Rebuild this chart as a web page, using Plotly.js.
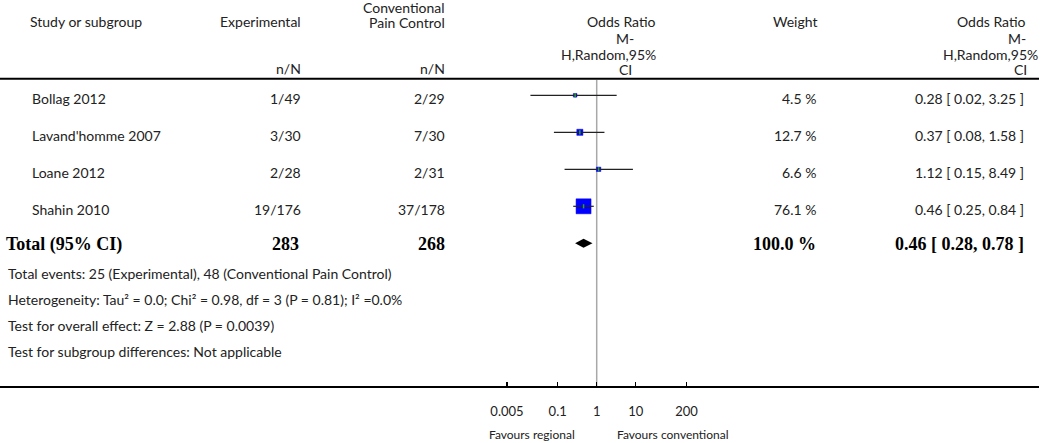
<!DOCTYPE html>
<html><head><meta charset="utf-8">
<script src="https://cdn.plot.ly/plotly-3.0.1.min.js"></script>
<style>html,body{margin:0;padding:0;background:#fff}</style>
</head><body><div id="chart" style="width:1050px;height:443px"></div>
<script>
// ---------- data ----------
const studies = ["Bollag 2012", "Lavand'homme 2007", "Loane 2012", "Shahin 2010"];
const expEvents = ["1/49", "3/30", "2/28", "19/176"];
const ctrlEvents = ["2/29", "7/30", "2/31", "37/178"];
const oddsRatio = [0.28, 0.37, 1.12, 0.46];
const ciLow = [0.02, 0.08, 0.15, 0.25];
const ciHigh = [3.25, 1.58, 8.49, 0.84];
const weights = [4.5, 12.7, 6.6, 76.1];
const totalLabel = "Total (95% CI)";
const totalExpN = 283;
const totalCtrlN = 268;
const totalOR = 0.46;
const totalLow = 0.28;
const totalHigh = 0.78;
const totalWeight = 100.0;
const tickVals = [0.005, 0.1, 1, 10, 200];
const tickLabels = ["0.005", "0.1", "1", "10", "200"];
const footnotes = [
  "Total events: 25 (Experimental), 48 (Conventional Pain Control)",
  "Heterogeneity: Tau² = 0.0; Chi² = 0.98, df = 3 (P = 0.81); I² =0.0%",
  "Test for overall effect: Z = 2.88 (P = 0.0039)",
  "Test for subgroup differences: Not applicable"
];
const favourLeft = "Favours regional";
const favourRight = "Favours conventional";

// ---------- geometry ----------
const W = 1050, H = 443;
const mL = 0, mR = 11, mT = 0, mB = 57;
const plotW = W - mL - mR, plotH = H - mT - mB;
const pxPerDecade = 39, xOnePx = 596.7;
const rowTop = 95.3, rowStep = 37;
const X = px => px / plotW;
const Y = py => 1 - py / plotH;

const SANS = "Lato, 'Open Sans', sans-serif";
const SERIF = "'Liberation Serif', 'DejaVu Serif', serif";
const TXT = "#222";
const f = (size, fam, col) => ({family: fam || SANS, size: size, color: col || TXT});

const rows = studies.map((_, i) => i);
const totalRow = studies.length;

// ---------- traces ----------
const ciX = [], ciY = [];
rows.forEach(i => { ciX.push(ciLow[i], ciHigh[i], null); ciY.push(i, i, null); });

const dh = 4.5 / rowStep;
const traces = [
  {
    type: "scatter", mode: "markers", x: oddsRatio, y: rows, opacity: 1,
    marker: {symbol: "square", color: "#0000ff", opacity: 1,
             size: weights.map(w => 1.72 * Math.sqrt(w)),
             line: {width: 0.5, color: "#0000ff"}},
    hoverinfo: "skip", showlegend: false
  },
  {
    type: "scatter", mode: "lines", x: ciX, y: ciY, opacity: 1,
    line: {color: "#222", width: 1.2}, hoverinfo: "skip", showlegend: false
  },
  {
    type: "scatter", mode: "markers", x: oddsRatio, y: rows, opacity: 1,
    marker: {symbol: "line-ns-open", size: 3, opacity: 1, line: {color: "#333", width: 1.5}},
    hoverinfo: "skip", showlegend: false
  },
  {
    type: "scatter", mode: "lines", fill: "toself", fillcolor: "#000", opacity: 1,
    x: [totalLow, totalOR, totalHigh, totalOR, totalLow],
    y: [totalRow, totalRow - dh, totalRow, totalRow + dh, totalRow],
    line: {width: 0, color: "#000"}, hoverinfo: "skip", showlegend: false
  }
];

// ---------- annotations ----------
const ann = [];
function A(text, xpx, ypx, xanchor, font, yref, yval, yshift) {
  ann.push({
    text: text, xref: "paper", x: X(xpx), xanchor: xanchor,
    yref: yref || "paper", y: yref === "y" ? yval : Y(ypx), yanchor: "middle",
    yshift: yshift || 0, showarrow: false, font: font, borderpad: 0
  });
}
// header
A("Study or subgroup", 29, 22, "left", f(14));
A("Experimental", 302, 22, "right", f(14));
A("Conventional", 446, 8, "right", f(14));
A("Pain Control", 446, 23, "right", f(14));
A("n/N", 302, 69, "right", f(14));
A("n/N", 446, 69, "right", f(14));
A("Odds Ratio", 657, 22, "right", f(14));
A("M-", 625, 38, "center", f(14));
A("H,Random,95%", 657, 54, "right", f(14));
A("CI", 625, 70, "center", f(14));
A("Weight", 795, 22, "center", f(14));
A("Odds Ratio", 1027, 22, "right", f(14));
A("M-", 1027, 38, "right", f(14));
A("H,Random,95%", 1039, 54, "right", f(14));
A("CI", 1028, 70, "right", f(14));

// study rows
rows.forEach(i => {
  A(studies[i], 31, 0, "left", f(14), "y", i, -3);
  A(expEvents[i], 302, 0, "right", f(14), "y", i, -3);
  A(ctrlEvents[i], 446, 0, "right", f(14), "y", i, -3);
  A(weights[i].toFixed(1) + " %", 817, 0, "right", f(14), "y", i, -3);
  A(oddsRatio[i].toFixed(2) + " [ " + ciLow[i].toFixed(2) + ", " + ciHigh[i].toFixed(2) + " ]",
    1025, 0, "right", f(14), "y", i, -3);
});
// total row
const fb = f(18, SERIF, "#000");
A("<b>" + totalLabel + "</b>", 5, 0, "left", fb, "y", totalRow, -1);
A("<b>" + totalExpN + "</b>", 300, 0, "right", fb, "y", totalRow, -1);
A("<b>" + totalCtrlN + "</b>", 446, 0, "right", fb, "y", totalRow, -1);
A("<b>" + totalWeight.toFixed(1) + " %</b>", 817, 0, "right", fb, "y", totalRow, -1);
A("<b>" + totalOR.toFixed(2) + " [ " + totalLow.toFixed(2) + ", " + totalHigh.toFixed(2) + " ]</b>",
  1025, 0, "right", fb, "y", totalRow, -1);
// footnotes
footnotes.forEach((t, k) => A(t, 7, 273 + 26 * k, "left", f(14)));
// favours
A(favourLeft, 576, 434, "right", f(12));
A(favourRight, 616, 434, "left", f(12));

// ---------- layout ----------
const layout = {
  width: W, height: H,
  margin: {l: mL, r: mR, t: mT, b: mB, pad: 0},
  paper_bgcolor: "#fff", plot_bgcolor: "#fff",
  showlegend: false,
  xaxis: {
    type: "log",
    range: [-xOnePx / pxPerDecade, (plotW - xOnePx) / pxPerDecade],
    tickmode: "array", tickvals: tickVals, ticktext: tickLabels,
    ticks: "inside", ticklen: 4, tickwidth: 1.5, tickcolor: "#000",
    showline: true, linecolor: "#000", linewidth: 2,
    showgrid: false, zeroline: false, fixedrange: true,
    ticklabelstandoff: 12,
    tickfont: f(13)
  },
  yaxis: {
    range: [(plotH - rowTop) / rowStep, -rowTop / rowStep],
    visible: false, showgrid: false, zeroline: false, fixedrange: true
  },
  shapes: [
    {type: "line", xref: "x", x0: 1, x1: 1, yref: "paper", y0: 0, y1: Y(80),
     line: {color: "#a8a8a8", width: 1.5}, layer: "below"},
    {type: "line", xref: "paper", x0: 0, x1: 1, yref: "paper", y0: Y(78.7), y1: Y(78.7),
     line: {color: "#000", width: 2}}
  ],
  annotations: ann
};

Plotly.newPlot("chart", traces, layout, {staticPlot: true, displayModeBar: false});
</script>
</body></html>
